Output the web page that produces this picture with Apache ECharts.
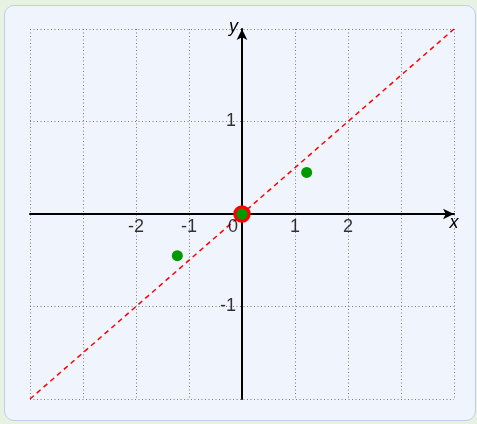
<!DOCTYPE html>
<html>
<head>
<meta charset="utf-8">
<script src="https://cdn.jsdelivr.net/npm/echarts@6/dist/echarts.min.js"></script>
<style>
  html, body { margin: 0; padding: 0; width: 477px; height: 424px; background: #e7f2e3; overflow: hidden; }
  #box { position: absolute; left: 4px; top: 5px; width: 470px; height: 414px; background: #f0f4fc; border: 1.5px solid #c3cce9; border-radius: 10px; }
  #chart { position: absolute; left: 0; top: 0; width: 477px; height: 424px; }
</style>
</head>
<body>
<div id="box"></div>
<div id="chart"></div>
<script>
// Data
const xTickLabels = [-2, -1, 0, 1, 2];
const yTickLabels = [-1, 1];
const xRange = [-4, 4];
const yRange = [-2, 2];
const lineX = [-4, 4];
const lineY = [-2, 2];
const pointX = [-1.22, 0, 1.22];
const pointY = [-0.45, 0, 0.45];
const originX = [0];
const originY = [0];

const zip = (a, b) => a.map((v, i) => [v, b[i]]);

const chart = echarts.init(document.getElementById('chart'), null, { renderer: 'canvas' });
const font = 'Liberation Sans, Arial, Helvetica, sans-serif';
const gridLine = { show: true, lineStyle: { color: '#7a7a7a', width: 1, type: [1, 2.5] } };
const axisLineStyle = { onZero: true, lineStyle: { color: '#000', width: 2 }, symbol: ['none', 'arrow'], symbolSize: [8, 11] };
const labelText = { fontFamily: font, fontSize: 18, color: '#000' };

chart.setOption({
  backgroundColor: 'transparent',
  animation: false,
  grid: { left: 30, right: 23, top: 29, bottom: 25, containLabel: false },
  xAxis: {
    type: 'value',
    min: xRange[0], max: xRange[1], interval: 1,
    name: 'x',
    nameLocation: 'end',
    nameGap: 0,
    nameTextStyle: { fontFamily: font, fontSize: 18, fontStyle: 'italic', color: '#000', align: 'center', verticalAlign: 'top', padding: [0, 0, 0, 0] },
    axisLine: axisLineStyle,
    axisTick: { show: false },
    axisLabel: { show: false },
    splitLine: gridLine
  },
  yAxis: {
    type: 'value',
    min: yRange[0], max: yRange[1], interval: 1,
    name: 'y',
    nameLocation: 'end',
    nameGap: 2,
    nameTextStyle: { fontFamily: font, fontSize: 18, fontStyle: 'italic', color: '#000', align: 'right', verticalAlign: 'middle', padding: [0, 4, 4, 0] },
    axisLine: axisLineStyle,
    axisTick: { show: false },
    axisLabel: { show: false },
    splitLine: gridLine
  },
  series: [
    {
      type: 'line',
      data: zip(lineX, lineY),
      symbol: 'none',
      lineStyle: { color: '#ff0000', width: 1.5, type: [5, 4] },
      z: 3,
      silent: true
    },
    {
      type: 'scatter',
      data: zip(originX, originY),
      symbol: 'circle',
      symbolSize: 13.5,
      itemStyle: { color: '#009900', borderColor: '#ff0000', borderWidth: 4, opacity: 1 },
      z: 4
    },
    {
      type: 'scatter',
      data: zip(pointX, pointY),
      symbol: 'circle',
      symbolSize: 11,
      itemStyle: { color: '#009900', opacity: 1 },
      z: 5
    },
    {
      // x tick labels, positioned on the x axis line through the scales
      type: 'scatter',
      silent: true,
      symbolSize: 0,
      data: xTickLabels.map(v => ({
        value: [v, 0],
        label: v === 0 ? { offset: [-9, 0] } : {}
      })),
      label: Object.assign({ show: true, position: 'bottom', distance: 4, formatter: p => String(p.value[0]) }, labelText),
      z: 6
    },
    {
      // y tick labels, positioned on the y axis line through the scales
      type: 'scatter',
      silent: true,
      symbolSize: 0,
      data: yTickLabels.map(v => [0, v]),
      label: Object.assign({ show: true, position: 'left', distance: 6, formatter: p => String(p.value[1]) }, labelText),
      z: 6
    }
  ]
});
</script>
</body>
</html>
